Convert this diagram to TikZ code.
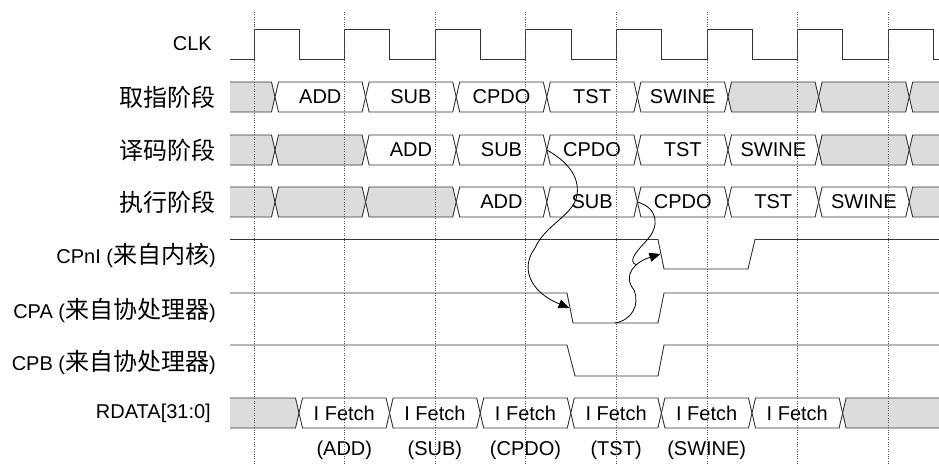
\documentclass[tikz,border=0pt]{standalone}
\usepackage{fontspec}
\setsansfont{Liberation Sans}
\newfontfamily\zhfont[Scale=1.2]{Noto Sans CJK SC}
\usetikzlibrary{arrows.meta}
\definecolor{idlec}{HTML}{DCDCDC}
\definecolor{wirec}{HTML}{333333}
\definecolor{gridc}{HTML}{555555}

\begin{document}
\begin{tikzpicture}[x=1pt, y=-1pt, font=\sffamily\fontsize{20}{24}\selectfont]
  \tikzset{
    wire/.style={draw=wirec, line width=0.9pt},
    bus/.style={wire, fill=#1},
    tick/.style={gridc, line width=0.7pt, dash pattern=on 1pt off 1.4pt},
    lab/.style={anchor=east, inner sep=0pt},
    hand/.style={black, line width=0.8pt, -{Triangle[length=11pt,width=9pt]}},
  }
  \useasboundingbox (0,0) rectangle (939,464);
  \clip (0,0) rectangle (939,464);

  % signal names
  \node[lab] (clk-lab) at (212,44) {CLK};
  \node[lab] (if-lab) at (216,97) {\zhfont 取指阶段};
  \node[lab] (id-lab) at (216,150) {\zhfont 译码阶段};
  \node[lab] (ex-lab) at (216,202) {\zhfont 执行阶段};
  \node[lab] (cpn-lab) at (216,255) {CPnI ({\zhfont 来自内核})};
  \node[lab] (cpa-lab) at (216,310) {CPA ({\zhfont 来自协处理器})};
  \node[lab] (cpb-lab) at (216,362) {CPB ({\zhfont 来自协处理器})};
  \node[lab] (rd-lab) at (211,413) {RDATA[31:0]};

  % clock, period 90.6
  \draw[wire] (230,59) -- (254,59)
    \foreach \k in {0,...,7} { -- ++(0,-30) -- ++(45.3,0) -- ++(0,30) -- ++(45.3,0) };

  % fetch stage
  \path[bus=idlec] (230,82) -- (271.5,82) -- (275,97) -- (271.5,112) -- (230,112);
  \foreach \k/\txt/\c [count=\i] in {0/ADD/white,1/SUB/white,2/CPDO/white,3/TST/white,4/SWINE/white,5//idlec,6//idlec} {
    \pgfmathsetmacro\a{275+\k*90.6}
    \pgfmathsetmacro\b{\a+90.6}
    \path[bus=\c] (\a,97) -- (\a+3.5,82) -- (\b-3.5,82) -- (\b,97) -- (\b-3.5,112) -- (\a+3.5,112) -- cycle;
    \node (if-\i) at ({(\a+\b)/2},97) {\txt};
  }
  \path[bus=idlec] (939,82) -- (912.7,82) -- (909.2,97) -- (912.7,112) -- (939,112);

  % decode stage
  \path[bus=idlec] (230,135) -- (271.5,135) -- (275,150) -- (271.5,165) -- (230,165);
  \foreach \k/\txt/\c [count=\i] in {0//idlec,1/ADD/white,2/SUB/white,3/CPDO/white,4/TST/white,5/SWINE/white,6//idlec} {
    \pgfmathsetmacro\a{275+\k*90.6}
    \pgfmathsetmacro\b{\a+90.6}
    \path[bus=\c] (\a,150) -- (\a+3.5,135) -- (\b-3.5,135) -- (\b,150) -- (\b-3.5,165) -- (\a+3.5,165) -- cycle;
    \node (id-\i) at ({(\a+\b)/2},150) {\txt};
  }
  \path[bus=idlec] (939,135) -- (912.7,135) -- (909.2,150) -- (912.7,165) -- (939,165);

  % execute stage
  \path[bus=idlec] (230,187) -- (271.5,187) -- (275,202) -- (271.5,217) -- (230,217);
  \foreach \k/\txt/\c [count=\i] in {0//idlec,1//idlec,2/ADD/white,3/SUB/white,4/CPDO/white,5/TST/white,6/SWINE/white} {
    \pgfmathsetmacro\a{275+\k*90.6}
    \pgfmathsetmacro\b{\a+90.6}
    \path[bus=\c] (\a,202) -- (\a+3.5,187) -- (\b-3.5,187) -- (\b,202) -- (\b-3.5,217) -- (\a+3.5,217) -- cycle;
    \node (ex-\i) at ({(\a+\b)/2},202) {\txt};
  }
  \path[bus=idlec] (939,187) -- (912.7,187) -- (909.2,202) -- (912.7,217) -- (939,217);

  % handshake lines
  \draw[wire] (230,239.5) -- (658,239.5) -- (664,269) -- (748,269) -- (755,239.5) -- (939,239.5);
  \draw[wire] (230,293) -- (567,293) -- (573,323) -- (658,323) -- (664,293) -- (939,293);
  \draw[wire] (230,345) -- (567,345) -- (575,376) -- (658,376) -- (664,345) -- (939,345);

  % read data bus
  \path[bus=idlec] (230,398) -- (295.5,398) -- (299,413) -- (295.5,428) -- (230,428);
  \foreach \k in {0,...,5} {
    \pgfmathsetmacro\a{299+\k*90.6}
    \pgfmathsetmacro\b{\a+90.6}
    \path[bus=white] (\a,413) -- (\a+3.5,398) -- (\b-3.5,398) -- (\b,413) -- (\b-3.5,428) -- (\a+3.5,428) -- cycle;
    \node (rd-\k) at ({(\a+\b)/2},413) {I Fetch};
  }
  \path[bus=idlec] (939,398) -- (846.1,398) -- (842.6,413) -- (846.1,428) -- (939,428);
  \foreach \k/\txt in {0/ADD,1/SUB,2/CPDO,3/TST,4/SWINE}
    \node (op-\k) at (344.3+\k*90.6,450) {(\txt)};

  % rising edges
  \foreach \k in {0,...,7}
    \draw[tick] (254+\k*90.6,12) -- (254+\k*90.6,464);

  % who waits on whom
  \coordinate (dec-cpdo) at (546.8,150);
  \coordinate (ex-cpdo) at (637.4,202);
  \coordinate (cpa-fall) at (569.5,308);
  \coordinate (cpa-low) at (615,323);
  \coordinate (cpn-fall) at (660.5,254);
  \draw[hand] (dec-cpdo) .. controls (565,160) and (580,175) .. (577,195)
    .. controls (574,215) and (545,225) .. (535,248)
    .. controls (520,268) and (530,292) .. (cpa-fall);
  \draw[hand] (cpa-low) .. controls (632,320) and (640,305) .. (634,290)
    .. controls (622,275) and (635,262) .. (cpn-fall);
  \draw[black, line width=0.8pt] (ex-cpdo) .. controls (658,208) and (660,226) .. (647,240)
    .. controls (638,250) and (626,262) .. (637,265);
\end{tikzpicture}
\end{document}
